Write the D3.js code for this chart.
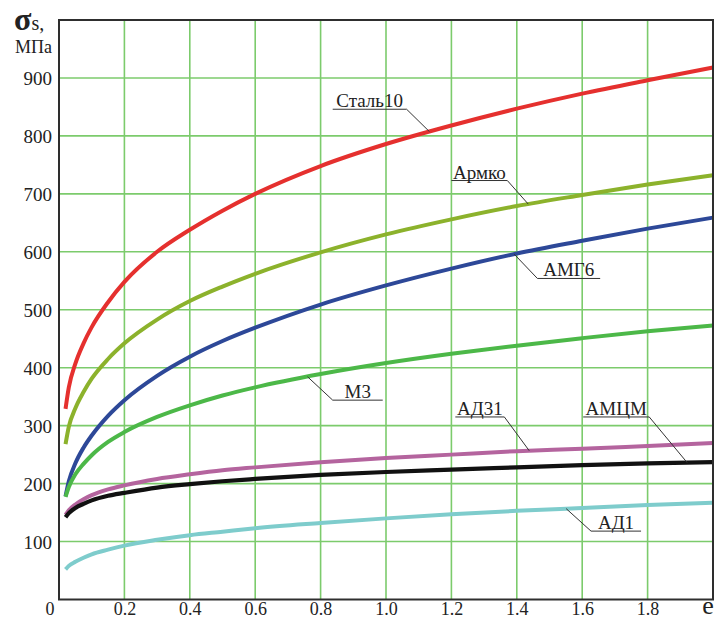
<!DOCTYPE html>
<html>
<head>
<meta charset="utf-8">
<script src="https://cdn.jsdelivr.net/npm/d3@7"></script>
<style>
  html, body { margin: 0; padding: 0; background: #ffffff; }
  svg { display: block; }
  svg text { font-family: 'Liberation Serif', 'Times New Roman', 'DejaVu Serif', serif !important; }
</style>
</head>
<body>
<svg id="chart" width="719" height="619"></svg>
<script>
// True strain values at which flow stress is tabulated
const strain = [0.02, 0.03, 0.05, 0.075, 0.1, 0.15, 0.2, 0.3, 0.4, 0.5, 0.6, 0.8, 1.0, 1.2, 1.4, 1.6, 1.8, 2.0];

// Flow stress σs, MPa, for each material
const stal10 = [329, 366, 407, 442, 470, 513, 548, 600, 638, 671, 700, 748, 786, 818, 847, 873, 896, 918];
const armco  = [268, 298, 330, 358, 381, 415, 442, 483, 515, 540, 562, 599, 630, 656, 679, 698, 716, 732];
const amg6   = [178, 204, 235, 262, 283, 317, 344, 386, 419, 446, 469, 509, 542, 571, 597, 619, 640, 659];
const m3     = [177, 194, 216, 234, 249, 272, 289, 315, 335, 352, 366, 389, 408, 424, 438, 451, 463, 473];
const ad31   = [146, 154, 164, 173, 180, 190, 197, 208, 216, 223, 228, 237, 244, 250, 256, 260, 265, 270];
const amcm   = [142, 149, 158, 165, 171, 179, 184, 193, 199, 204, 208, 215, 220, 224, 228, 232, 235, 237];
const ad1    = [ 52,  58,  65,  72,  78,  86,  93, 103, 111, 117, 123, 132, 140, 147, 153, 158, 163, 167];

// Axis ticks
const xTicks = [0.2, 0.4, 0.6, 0.8, 1.0, 1.2, 1.4, 1.6, 1.8];
const xTickLabels = ["0.2", "0.4", "0.6", "0.8", "1.0", "1.2", "1.4", "1.6", "1.8"];
const yTicks = [100, 200, 300, 400, 500, 600, 700, 800, 900];

// Curve names, in drawing order
const names = ["Сталь10", "Армко", "АМГ6", "М3", "АД31", "АМЦМ", "АД1"];
const seriesValues = [stal10, armco, amg6, m3, ad31, amcm, ad1];
const colors = ["#e5302e", "#8cb22c", "#2d4898", "#4cb848", "#b4649e", "#111111", "#7ecccc"];

// Callout placement: strain on the curve pointed at, underline strain span, underline stress level,
// and which end of the underline the leader starts from
const calloutTarget = [1.133, 1.435, 1.392, 0.760, 1.438, 1.921, 1.551];
const calloutFrom   = [0.837, 1.200, 1.463, 0.837, 1.212, 1.603, 1.627];
const calloutTo     = [1.063, 1.371, 1.655, 0.990, 1.362, 1.805, 1.780];
const calloutLevel  = [846,   723,   554,   344,   315,   315,   118];
const calloutEnd    = ["right", "right", "left", "left", "right", "right", "left"];

const svg = d3.select("#chart");

const x = d3.scaleLinear().domain([0, 2]).range([59, 713]);
const y = d3.scaleLinear().domain([0, 1000]).range([599.5, 20]);

// Grid
const grid = svg.append("g").attr("stroke", "#7ccb6c").attr("stroke-width", 1.6);
grid.selectAll("line.v").data(xTicks).join("line")
  .attr("class", "v")
  .attr("x1", d => x(d)).attr("x2", d => x(d))
  .attr("y1", y(1000)).attr("y2", y(0));
grid.selectAll("line.h").data(yTicks).join("line")
  .attr("class", "h")
  .attr("x1", x(0)).attr("x2", x(2))
  .attr("y1", d => y(d)).attr("y2", d => y(d));

// Curves
const line = d3.line()
  .x(d => x(d[0]))
  .y(d => y(d[1]))
  .curve(d3.curveMonotoneX);

const curves = svg.append("g").attr("fill", "none").attr("stroke-linecap", "butt");
seriesValues.forEach((vals, i) => {
  curves.append("path")
    .datum(strain.map((s, k) => [s, vals[k]]))
    .attr("d", line)
    .attr("stroke", colors[i])
    .attr("stroke-width", i === 5 ? 4.2 : 4);
});

// Frame
svg.append("rect")
  .attr("x", x(0)).attr("y", y(1000))
  .attr("width", x(2) - x(0)).attr("height", y(0) - y(1000))
  .attr("fill", "none").attr("stroke", "#2e2e2e").attr("stroke-width", 2);

// Y axis labels
const yAxis = d3.axisLeft(y).tickValues(yTicks).tickSize(0).tickPadding(7).tickFormat(d3.format("d"));
const gy = svg.append("g").attr("transform", `translate(${x(0)},0)`).call(yAxis);
gy.attr("font-family", null).attr("font-size", null);
gy.select(".domain").remove();
gy.selectAll("text")
  .attr("font-size", 19).attr("fill", "#222").attr("dy", "0.36em");

// X axis labels
const xAxis = d3.axisBottom(x).tickValues(xTicks).tickSize(0).tickPadding(0)
  .tickFormat((d, i) => xTickLabels[i]);
const gx = svg.append("g").attr("transform", `translate(0,${y(0)})`).call(xAxis);
gx.attr("font-family", null).attr("font-size", null);
gx.select(".domain").remove();
gx.selectAll("text")
  .attr("font-size", 18).attr("fill", "#222").attr("dy", null).attr("y", 15);

svg.append("text")
  .attr("x", x(0) - 9).attr("y", y(0) + 15)
  .attr("text-anchor", "middle")
  .attr("font-size", 18).attr("fill", "#222").text("0");

svg.append("text")
  .attr("x", x(2) - 5).attr("y", y(0) + 14)
  .attr("text-anchor", "middle")
  .attr("font-size", 26).attr("fill", "#222").text("e");

// Y axis title: σs, МПа
const title = svg.append("text").attr("x", 14).attr("y", 30).attr("fill", "#222");
title.append("tspan").attr("font-size", 32).attr("font-weight", "bold").text("σ");
title.append("tspan").attr("font-size", 20).text("s,");
svg.append("text")
  .attr("x", 52).attr("y", 53).attr("text-anchor", "end")
  .attr("font-size", 18).attr("fill", "#222").text("МПа");

// Callouts
function valueAt(vals, s) {
  const i = d3.bisectLeft(strain, s);
  const i0 = Math.max(0, i - 1), i1 = Math.min(strain.length - 1, i);
  if (i0 === i1) return vals[i0];
  const t = (s - strain[i0]) / (strain[i1] - strain[i0]);
  return vals[i0] + t * (vals[i1] - vals[i0]);
}

const callouts = svg.append("g");
names.forEach((name, i) => {
  const ux0 = x(calloutFrom[i]), ux1 = x(calloutTo[i]), uy = y(calloutLevel[i]);
  const tx = x(calloutTarget[i]), ty = y(valueAt(seriesValues[i], calloutTarget[i]));
  const sx = calloutEnd[i] === "right" ? ux1 : ux0;
  callouts.append("line")
    .attr("x1", ux0).attr("x2", ux1).attr("y1", uy).attr("y2", uy)
    .attr("stroke", "#333").attr("stroke-width", 1);
  callouts.append("line")
    .attr("x1", sx).attr("y1", uy).attr("x2", tx).attr("y2", ty)
    .attr("stroke", "#333").attr("stroke-width", 1);
  callouts.append("text")
    .attr("x", (ux0 + ux1) / 2).attr("y", uy - 2)
    .attr("text-anchor", "middle")
    .attr("font-size", 19).attr("fill", "#222")
    .text(name);
});
</script>
</body>
</html>
